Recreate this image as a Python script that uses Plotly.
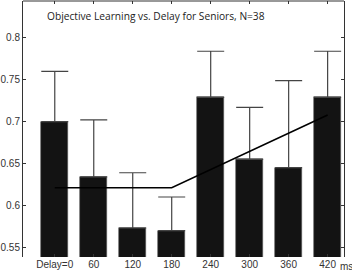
import plotly.graph_objects as go

delays = [0, 60, 120, 180, 240, 300, 360, 420]
tick_labels = ["Delay=0", "60", "120", "180", "240", "300", "360", "420"]
means = [0.700, 0.634, 0.573, 0.570, 0.729, 0.655, 0.645, 0.729]
err_up = [0.060, 0.068, 0.066, 0.040, 0.055, 0.062, 0.104, 0.055]
fit_x = [0, 180, 420]
fit_y = [0.621, 0.621, 0.708]

title = "Objective Learning vs. Delay for Seniors, N=38"

fig = go.Figure()
fig.add_trace(go.Bar(
    x=delays, y=means, width=41.5,
    marker=dict(color="#131313", line=dict(color="#555555", width=0.6)),
    error_y=dict(type="data", symmetric=False, array=err_up,
                 arrayminus=[0] * len(err_up),
                 color="#444444", thickness=1.2, width=13.5),
    base=0, showlegend=False,
))
fig.add_trace(go.Scatter(
    x=fit_x, y=fit_y, mode="lines",
    line=dict(color="black", width=1.6), showlegend=False,
))

fig.update_layout(
    width=352, height=274,
    margin=dict(l=23, r=8, t=1, b=17),
    paper_bgcolor="white", plot_bgcolor="white",
    font=dict(family="Liberation Sans", size=10, color="#333333"),
    bargap=0,
    annotations=[
        dict(text=title, xref="paper", yref="paper", x=0.055, y=0.94,
             xanchor="left", yanchor="middle", showarrow=False, xshift=4,
             font=dict(family="Open Sans", size=10.2, color="#222222")),
        dict(text="ms", xref="paper", yref="paper", x=1.0, y=0,
             xanchor="left", yanchor="top", showarrow=False,
             xshift=-6, yshift=-2,
             font=dict(family="Liberation Sans", size=10, color="#333333")),
    ],
    shapes=[
        dict(type="line", xref="paper", yref="paper", x0=0, x1=1, y0=1, y1=1,
             line=dict(color="#333333", width=1)),
    ],
)
fig.update_xaxes(
    range=[-48.9, 445.2], tickmode="array", tickvals=delays, ticktext=tick_labels,
    showline=False, showgrid=False, zeroline=False,
    ticks="inside", ticklen=3, tickcolor="#333333", mirror="ticks",
    tickfont=dict(family="Liberation Sans", size=10, color="#333333"),
)
fig.update_yaxes(
    range=[0.5384, 0.844], tickmode="array",
    tickvals=[0.55, 0.6, 0.65, 0.7, 0.75, 0.8],
    ticktext=["0.55", "0.6", "0.65", "0.7", "0.75", "0.8"],
    showline=True, linecolor="#333333", linewidth=1, mirror="ticks",
    showgrid=False, zeroline=False,
    ticks="inside", ticklen=3, tickcolor="#333333",
    tickfont=dict(family="Liberation Sans", size=10, color="#333333"),
)

fig.write_html("out.html")
